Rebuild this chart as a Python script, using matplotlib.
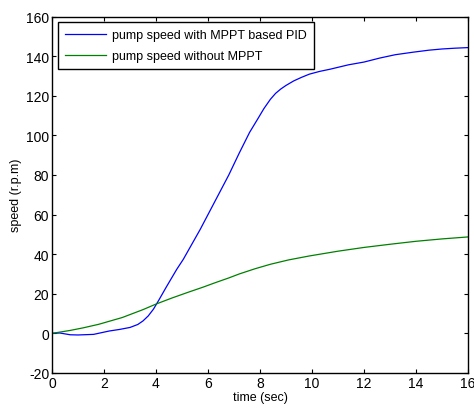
import numpy as np
import matplotlib.pyplot as plt

plt.rcParams['font.family'] = ['Liberation Sans', 'DejaVu Sans']
plt.rcParams['axes.unicode_minus'] = False

# values
t_pid = [0, 0.3, 0.7, 1.0, 1.6, 2.2, 2.6, 3.0, 3.3, 3.5, 3.7, 3.9, 4.1, 4.4, 4.8,
         5.05, 5.7, 6.3, 6.8, 7.2, 7.6, 7.9, 8.15, 8.4, 8.6, 8.8, 9.0, 9.3, 9.6,
         9.9, 10.3, 10.7, 11.4, 12.0, 12.6, 13.2, 13.9, 14.5, 15.0, 15.5, 16.0]
v_pid = [0, 0.2, -0.7, -0.8, -0.5, 1.2, 2.0, 3.0, 4.5, 6.3, 8.8, 12.2, 16.6, 23.5, 32.4,
         37.4, 52.5, 67.5, 80.0, 91.0, 101.5, 108.0, 113.5, 118.2, 121.2, 123.4, 125.2,
         127.5, 129.3, 130.9, 132.3, 133.4, 135.6, 137.0, 139.0, 140.7, 142.0, 143.0,
         143.6, 144.0, 144.3]

t_nompt = [0, 0.7, 1.2, 1.8, 2.7, 3.5, 4.0, 4.6, 5.2, 5.8, 6.3, 6.8, 7.2, 7.8, 8.4,
           9.1, 9.9, 11.0, 12.0, 13.0, 14.0, 15.0, 16.0]
v_nompt = [0, 1.5, 2.8, 4.6, 8.0, 12.0, 14.8, 17.8, 20.6, 23.3, 25.7, 28.0, 30.0, 32.6,
           34.9, 37.1, 39.1, 41.5, 43.4, 45.0, 46.5, 47.7, 48.7]

fig = plt.figure(figsize=(4.74, 4.10), dpi=100)
ax = fig.add_axes([52/474, 1-374/410, 416/474, 356.5/410])

ax.plot(t_pid, v_pid, color='#0000ff', lw=0.9, label='pump speed with MPPT based PID')
ax.plot(t_nompt, v_nompt, color='#008000', lw=0.9, label='pump speed without MPPT')

ax.set_xlim(0, 16)
ax.set_ylim(-20, 160)
ax.set_xticks(np.arange(0, 17, 2))
ax.set_yticks(np.arange(-20, 161, 20))
ax.tick_params(direction='in', top=True, right=True, labelsize=10, length=3, pad=2)
for s in ax.spines.values():
    s.set_linewidth(1.0)

ax.set_xlabel('time (sec)', fontsize=9, labelpad=1)
ax.set_ylabel('speed (r.p.m)', fontsize=9, labelpad=3)

leg = ax.legend(loc='upper left', fontsize=9, fancybox=False, framealpha=1,
                edgecolor='black', borderaxespad=0.45, handlelength=3.3,
                borderpad=0.55, labelspacing=0.75, handletextpad=0.5)
leg.get_frame().set_linewidth(1.0)

fig.savefig('out.png', dpi=100)
